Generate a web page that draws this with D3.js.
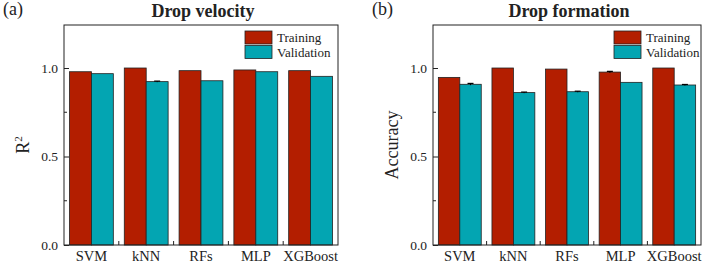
<!DOCTYPE html>
<html>
<head>
<meta charset="utf-8">
<script src="https://cdn.jsdelivr.net/npm/d3@7"></script>
<style>
  body { margin: 0; background: #fff; }
  svg text { font-family: "Liberation Serif", "Times New Roman", serif; fill: #222; }
</style>
</head>
<body>
<svg id="chart" width="707" height="265"></svg>
<script>
// Models on the x axis
var models = ["SVM", "kNN", "RFs", "MLP", "XGBoost"];
var seriesNames = ["Training", "Validation"];

// Drop velocity (R2)
var velTraining = [0.979, 1.0, 0.985, 0.989, 0.985];
var velValidation = [0.968, 0.923, 0.928, 0.979, 0.953];
var velTrainErr = [0, 0, 0, 0, 0];
var velValErr = [0, 0.003, 0, 0, 0];

// Drop formation (accuracy)
var formTraining = [0.947, 1.0, 0.994, 0.977, 1.0];
var formValidation = [0.908, 0.861, 0.866, 0.919, 0.904];
var formTrainErr = [0, 0, 0, 0.004, 0];
var formValErr = [0.005, 0.003, 0.003, 0, 0.003];

var yTicks = [0, 0.5, 1.0];
var yMinorTicks = [0.25, 0.75];

// Colours
var red = "#B31E00";
var teal = "#03A5B2";

var svg = d3.select("#chart");

function drawPanel(opts) {
    var x0 = opts.left, x1 = opts.right, top = 25, bottom = 245;

    var xScale = d3.scaleBand()
        .domain(models)
        .range([x0, x1])
        .paddingInner(0.2)
        .paddingOuter(0.1);

    var xSub = d3.scaleBand()
        .domain(seriesNames)
        .range([0, xScale.bandwidth()]);

    var yScale = d3.scaleLinear()
        .domain([0, 1.243])
        .range([bottom, top]);

    var g = svg.append("g");

    var rows = models.map(function (m, i) {
        return [
            { model: m, series: "Training", value: opts.train[i], err: opts.trainErr[i] },
            { model: m, series: "Validation", value: opts.val[i], err: opts.valErr[i] }
        ];
    }).flat();

    // bars
    g.selectAll("rect.bar")
        .data(rows)
        .enter()
        .append("rect")
        .attr("class", "bar")
        .attr("x", d => xScale(d.model) + xSub(d.series))
        .attr("y", d => yScale(d.value))
        .attr("width", xSub.bandwidth())
        .attr("height", d => yScale(0) - yScale(d.value))
        .attr("fill", d => d.series === "Training" ? red : teal)
        .attr("stroke", "#222")
        .attr("stroke-width", 0.8);

    // error bars
    var withErr = rows.filter(d => d.err > 0);
    var eb = g.selectAll("g.err")
        .data(withErr)
        .enter()
        .append("g")
        .attr("class", "err");
    eb.append("line")
        .attr("x1", d => xScale(d.model) + xSub(d.series) + xSub.bandwidth() / 2)
        .attr("x2", d => xScale(d.model) + xSub(d.series) + xSub.bandwidth() / 2)
        .attr("y1", d => yScale(d.value - d.err))
        .attr("y2", d => yScale(d.value + d.err))
        .attr("stroke", "#000").attr("stroke-width", 1);
    eb.append("line")
        .attr("x1", d => xScale(d.model) + xSub(d.series) + xSub.bandwidth() / 2 - 3)
        .attr("x2", d => xScale(d.model) + xSub(d.series) + xSub.bandwidth() / 2 + 3)
        .attr("y1", d => yScale(d.value + d.err))
        .attr("y2", d => yScale(d.value + d.err))
        .attr("stroke", "#000").attr("stroke-width", 1.2);

    // frame
    g.append("rect")
        .attr("x", x0).attr("y", top)
        .attr("width", x1 - x0).attr("height", bottom - top)
        .attr("fill", "none").attr("stroke", "#222").attr("stroke-width", 1);

    // y axis, ticks pointing in
    var yAxis = d3.axisLeft(yScale)
        .tickValues(yTicks)
        .tickFormat(d3.format(".1f"))
        .tickSizeInner(-5)
        .tickSizeOuter(0)
        .tickPadding(6);
    var ya = g.append("g")
        .attr("transform", "translate(" + x0 + ",0)")
        .call(yAxis);
    ya.select(".domain").remove();
    ya.selectAll("text").style("font-size", "13.5px").style("font-family", "Liberation Serif").attr("fill", "#222");
    ya.selectAll("line").attr("stroke", "#222");

    g.selectAll("line.yminor")
        .data(yMinorTicks)
        .enter()
        .append("line")
        .attr("class", "yminor")
        .attr("x1", x0).attr("x2", x0 + 3)
        .attr("y1", d => yScale(d)).attr("y2", d => yScale(d))
        .attr("stroke", "#222");

    // x axis labels
    var xAxis = d3.axisBottom(xScale)
        .tickSize(0)
        .tickPadding(6);
    var xa = g.append("g")
        .attr("transform", "translate(0," + bottom + ")")
        .call(xAxis);
    xa.select(".domain").remove();
    xa.selectAll("text").style("font-size", "14.5px").style("font-family", "Liberation Serif").attr("fill", "#222");

    // x minor ticks between groups
    var bounds = models.slice(1).map(m => xScale(m) - xScale.step() * xScale.paddingInner() / 2);
    g.selectAll("line.xminor")
        .data(bounds)
        .enter()
        .append("line")
        .attr("class", "xminor")
        .attr("x1", d => d).attr("x2", d => d)
        .attr("y1", bottom).attr("y2", bottom - 4)
        .attr("stroke", "#222");

    // title and panel letter
    svg.append("text")
        .attr("x", (x0 + x1) / 2 + 2)
        .attr("y", 17)
        .attr("text-anchor", "middle")
        .style("font-size", "18px")
        .style("font-weight", "bold")
        .text(opts.title);

    svg.append("text")
        .attr("x", opts.letterX)
        .attr("y", 15)
        .style("font-size", "18px")
        .text(opts.letter);

    // y axis label
    var yl = svg.append("text")
        .attr("transform", "translate(" + opts.yLabelX + ",145) rotate(-90)")
        .attr("text-anchor", "middle")
        .style("font-size", "18px");
    if (opts.yLabel === "R2") {
        yl.append("tspan").text("R");
        yl.append("tspan").attr("dy", -7).style("font-size", "11px").text("2");
    } else {
        yl.text(opts.yLabel);
    }

    // legend
    var legend = svg.append("g")
        .attr("transform", "translate(" + opts.legendX + ",31)");
    legend.selectAll("rect")
        .data(seriesNames)
        .enter()
        .append("rect")
        .attr("x", 0)
        .attr("y", (d, i) => i * 14.5)
        .attr("width", 27)
        .attr("height", 13)
        .attr("fill", d => d === "Training" ? red : teal)
        .attr("stroke", "#222")
        .attr("stroke-width", 0.8);
    legend.selectAll("text")
        .data(seriesNames)
        .enter()
        .append("text")
        .attr("x", 32)
        .attr("y", (d, i) => i * 14.5 + 11)
        .style("font-size", "13px")
        .text(d => d);
}

drawPanel({
    left: 64, right: 338,
    train: velTraining, val: velValidation,
    trainErr: velTrainErr, valErr: velValErr,
    title: "Drop velocity", letter: "(a)", letterX: 3,
    yLabel: "R2", yLabelX: 29, legendX: 245
});

drawPanel({
    left: 433, right: 701,
    train: formTraining, val: formValidation,
    trainErr: formTrainErr, valErr: formValErr,
    title: "Drop formation", letter: "(b)", letterX: 372,
    yLabel: "Accuracy", yLabelX: 398, legendX: 614
});
</script>
</body>
</html>
